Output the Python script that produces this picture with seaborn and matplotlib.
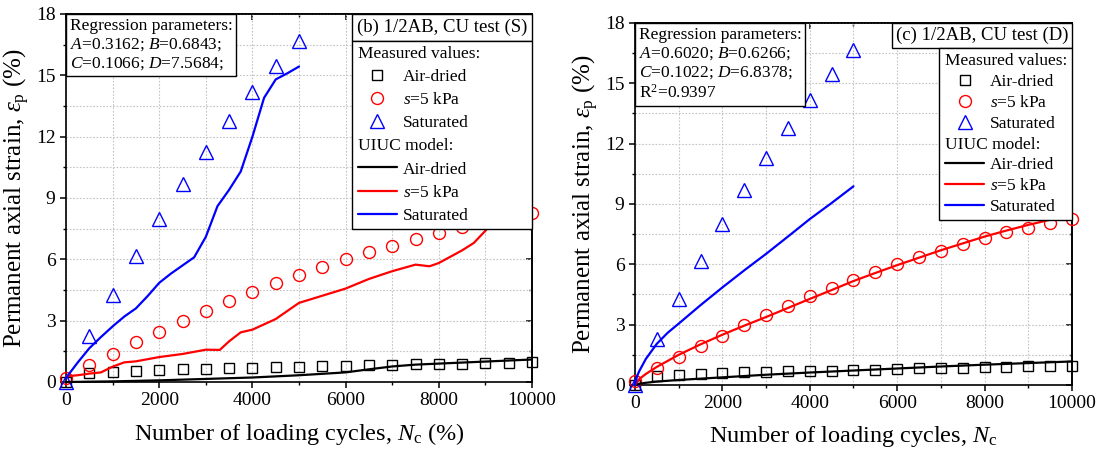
import numpy as np
import seaborn as sns
import matplotlib
matplotlib.use("Agg")
import matplotlib.pyplot as plt
from matplotlib.lines import Line2D
from matplotlib.offsetbox import AnchoredText
from matplotlib.ticker import MultipleLocator, NullFormatter

# ---------------- measured permanent strain (%) ----------------
cycles_meas = [0, 500, 1000, 1500, 2000, 2500, 3000, 3500, 4000, 4500, 5000,
               5500, 6000, 6500, 7000, 7500, 8000, 8500, 9000, 9500, 10000]
air_meas = [0.0, 0.43, 0.50, 0.56, 0.60, 0.64, 0.66, 0.68, 0.70, 0.72, 0.75,
            0.77, 0.79, 0.82, 0.84, 0.86, 0.88, 0.90, 0.92, 0.94, 0.96]
s5_meas = [0.20, 0.82, 1.39, 1.94, 2.46, 2.99, 3.47, 3.95, 4.40, 4.83, 5.22,
           5.63, 6.00, 6.35, 6.67, 7.00, 7.29, 7.59, 7.82, 8.03, 8.25]
cycles_sat = [0, 500, 1000, 1500, 2000, 2500, 3000, 3500, 4000, 4500, 5000]
sat_meas = [0.0, 2.27, 4.26, 6.17, 7.98, 9.68, 11.27, 12.78, 14.16, 15.48, 16.68]

# ---------------- UIUC model, panel (b) static ----------------
s_air_N = [0, 1000, 2000, 3000, 4000, 5000, 6000, 6500, 7000, 7500, 8000, 9000, 10000]
s_air_E = [0.0, 0.03, 0.08, 0.15, 0.22, 0.33, 0.47, 0.62, 0.76, 0.85, 0.90, 1.00, 1.10]
s_s5_N = [0, 250, 500, 750, 1000, 1250, 1500, 2000, 2500, 3000, 3300, 3500, 3750,
          4000, 4500, 5000, 5500, 6000, 6500, 7000, 7500, 7800, 8000, 8500, 8750,
          9000, 9250, 9500, 9750, 10000]
s_s5_E = [0.28, 0.33, 0.41, 0.47, 0.75, 0.96, 1.01, 1.22, 1.37, 1.58, 1.57, 1.99, 2.43,
          2.56, 3.08, 3.87, 4.22, 4.57, 5.04, 5.42, 5.74, 5.66, 5.82, 6.44, 6.80,
          7.40, 8.05, 8.35, 8.60, 8.85]
s_sat_N = [0, 250, 500, 750, 1000, 1250, 1500, 1750, 2000, 2250, 2500, 2750, 3000,
           3250, 3500, 3750, 4000, 4250, 4500, 4750, 5000]
s_sat_E = [0.20, 0.95, 1.65, 2.20, 2.72, 3.20, 3.60, 4.20, 4.85, 5.30, 5.70, 6.10, 7.10,
           8.60, 9.40, 10.30, 12.00, 13.90, 14.80, 15.10, 15.43]

# ---------------- UIUC model, panel (c) dynamic ----------------
d_air_N = [0, 100, 250, 500, 1000, 2000, 3000, 4000, 5000, 6000, 7000, 8000, 9000, 10000]
d_air_E = [0.0, 0.06, 0.11, 0.17, 0.25, 0.38, 0.51, 0.62, 0.72, 0.82, 0.92, 1.01, 1.09, 1.17]
d_s5_N = [0, 100, 250, 500, 750, 1000, 1500, 2000, 2500, 3000, 3500, 4000, 4500,
          5000, 5500, 6000, 6500, 7000, 7500, 8000, 8500, 9000, 9500, 10000]
d_s5_E = [0.0, 0.30, 0.55, 0.90, 1.20, 1.50, 2.02, 2.50, 2.95, 3.38, 3.83, 4.28, 4.72,
          5.17, 5.57, 5.96, 6.33, 6.70, 7.04, 7.38, 7.68, 7.96, 8.22, 8.48]
d_sat_N = [0, 50, 100, 250, 500, 750, 1000, 1500, 2000, 2500, 3000, 3500, 4000, 4500, 5000]
d_sat_E = [0.0, 0.45, 0.70, 1.30, 2.05, 2.60, 3.05, 3.97, 4.85, 5.70, 6.52, 7.38, 8.25, 9.05, 9.88]

params_b = "Regression parameters:\n$A$=0.3162; $B$=0.6843;\n$C$=0.1066; $D$=7.5684;"
params_c = ("Regression parameters:\n$A$=0.6020; $B$=0.6266;\n$C$=0.1022; $D$=6.8378;\n"
            "R$^2$=0.9397")
title_b = "(b) 1/2AB, CU test (S)"
title_c = "(c) 1/2AB, CU test (D)"
xlabel_b = "Number of loading cycles, $N_{\\rm c}$ (%)"
xlabel_c = "Number of loading cycles, $N_{\\rm c}$"
ylabel = "Permanent axial strain, $\\varepsilon_{\\rm p}$ (%)"
legend_labels = ["Measured values:", "Air-dried", "$s$=5 kPa", "Saturated",
                 "UIUC model:", "Air-dried", "$s$=5 kPa", "Saturated"]

sns.set_theme(style="ticks")
plt.rcParams.update({
    "font.family": ["Liberation Serif", "DejaVu Serif"],
    "mathtext.fontset": "custom",
    "mathtext.rm": "Liberation Serif",
    "mathtext.it": "Liberation Serif:italic",
    "mathtext.bf": "Liberation Serif:bold",
    "axes.edgecolor": "black",
    "axes.linewidth": 1.2,
    "xtick.color": "black",
    "ytick.color": "black",
    "text.color": "black",
    "axes.labelcolor": "black",
})

TICK_FS = 14
XLABEL_FS = 17.5
YLABEL_FS = 18
BOX_FS = 12.5
TITLE_FS = 13.5
LW = 1.6
BLACK, RED, BLUE = "#000000", "#ff0000", "#0000ff"
MARKERS = {"air": ("s", 7.5, BLACK), "s5": ("o", 8.6, RED), "sat": ("^", 9.4, BLUE)}

fig = plt.figure(figsize=(11.02, 4.54), dpi=100)
ax_b = fig.add_axes([0.0599, 0.1586, 0.4229, 0.8106])
ax_c = fig.add_axes([0.5762, 0.1520, 0.3966, 0.7974])


def style_axes(ax, xlabel):
    ax.set_xlim(0, 10000)
    ax.set_ylim(0, 18)
    ax.xaxis.set_major_locator(MultipleLocator(2000))
    ax.xaxis.set_minor_locator(MultipleLocator(1000))
    ax.yaxis.set_major_locator(MultipleLocator(3))
    ax.yaxis.set_minor_locator(MultipleLocator(1.5))
    ax.grid(which="both", color="#c4c4c4", ls=(0, (1.5, 1.5)), lw=0.8)
    ax.set_axisbelow(True)
    ax.tick_params(which="major", direction="out", length=4.5, width=1.1,
                   labelsize=TICK_FS, pad=3)
    ax.tick_params(which="minor", direction="out", length=2.5, width=1.0)
    for side in ("right", "top"):
        if side == "right":
            sec = ax.secondary_yaxis("right")
            axis = sec.yaxis
            axis.set_major_locator(MultipleLocator(3))
            axis.set_minor_locator(MultipleLocator(1.5))
        else:
            sec = ax.secondary_xaxis("top")
            axis = sec.xaxis
            axis.set_major_locator(MultipleLocator(2000))
            axis.set_minor_locator(MultipleLocator(1000))
        axis.set_major_formatter(NullFormatter())
        sec.tick_params(which="major", direction="in", length=4.5, width=1.1)
        sec.tick_params(which="minor", direction="in", length=2.5, width=1.0)
    ax.set_xlabel(xlabel, fontsize=XLABEL_FS, labelpad=8)
    ax.set_ylabel(ylabel, fontsize=YLABEL_FS, labelpad=3)


def draw_measured(ax):
    for key, xs, ys in (("air", cycles_meas, air_meas),
                        ("s5", cycles_meas, s5_meas),
                        ("sat", cycles_sat, sat_meas)):
        mk, ms, col = MARKERS[key]
        sns.lineplot(x=xs, y=ys, ax=ax, ls="none", marker=mk, markersize=ms,
                     markerfacecolor="none", markeredgecolor=col,
                     markeredgewidth=1.0, color=col, clip_on=False,
                     estimator=None, sort=False, legend=False, zorder=3)


def draw_model(ax, curves):
    for xs, ys, col in curves:
        sns.lineplot(x=xs, y=ys, ax=ax, color=col, lw=LW, estimator=None,
                     sort=False, legend=False, zorder=4, clip_on=False)


def corner_box(ax, text, loc, size, pad):
    at = AnchoredText(text, loc=loc, prop=dict(size=size), frameon=True,
                      pad=pad, borderpad=0)
    at.patch.set_boxstyle("square,pad=0")
    at.patch.set_edgecolor("black")
    at.patch.set_linewidth(1.0)
    at.zorder = 6
    ax.add_artist(at)
    return at


def legend_handles():
    h = [Line2D([], [], ls="none")]
    for key in ("air", "s5", "sat"):
        mk, ms, col = MARKERS[key]
        h.append(Line2D([], [], ls="none", marker=mk, markersize=ms,
                        markerfacecolor="none", markeredgecolor=col,
                        markeredgewidth=1.0))
    h.append(Line2D([], [], ls="none"))
    for col in (BLACK, RED, BLUE):
        h.append(Line2D([], [], color=col, lw=LW))
    return h


def add_legend(ax, title_box, expand, spacing):
    fig.canvas.draw()
    bb = title_box.get_window_extent(fig.canvas.get_renderer())
    x0, y0 = ax.transAxes.inverted().transform((bb.x0, bb.y0))
    kw = dict(fontsize=BOX_FS, frameon=True, fancybox=False, framealpha=1,
              edgecolor="black", borderpad=0.3, handlelength=2.3,
              handletextpad=0.3, labelspacing=spacing, borderaxespad=0)
    if expand:
        leg = ax.legend(legend_handles(), legend_labels, loc="upper left",
                        bbox_to_anchor=(x0, 0, 1 - x0, y0), mode="expand", **kw)
    else:
        leg = ax.legend(legend_handles(), legend_labels, loc="upper right",
                        bbox_to_anchor=(1, y0), **kw)
    leg.get_frame().set_linewidth(1.0)
    leg.set_zorder(6)
    rows = leg._legend_handle_box.get_children()[0].get_children()
    for i in (0, 4):
        rows[i].get_children()[0].width = 0
        rows[i].sep = 0
    return leg


# panel (b)
style_axes(ax_b, xlabel_b)
draw_measured(ax_b)
draw_model(ax_b, [(s_air_N, s_air_E, BLACK), (s_s5_N, s_s5_E, RED),
                  (s_sat_N, s_sat_E, BLUE)])
corner_box(ax_b, params_b, "upper left", BOX_FS, 0.22)
tb = corner_box(ax_b, title_b, "upper right", TITLE_FS, 0.25)

# panel (c)
style_axes(ax_c, xlabel_c)
draw_measured(ax_c)
draw_model(ax_c, [(d_air_N, d_air_E, BLACK), (d_s5_N, d_s5_E, RED),
                  (d_sat_N, d_sat_E, BLUE)])
corner_box(ax_c, params_c, "upper left", BOX_FS, 0.22)
tc = corner_box(ax_c, title_c, "upper right", TITLE_FS, 0.2)

add_legend(ax_b, tb, expand=True, spacing=0.4)
add_legend(ax_c, tc, expand=False, spacing=0.27)

fig.savefig("out.png", dpi=100)
